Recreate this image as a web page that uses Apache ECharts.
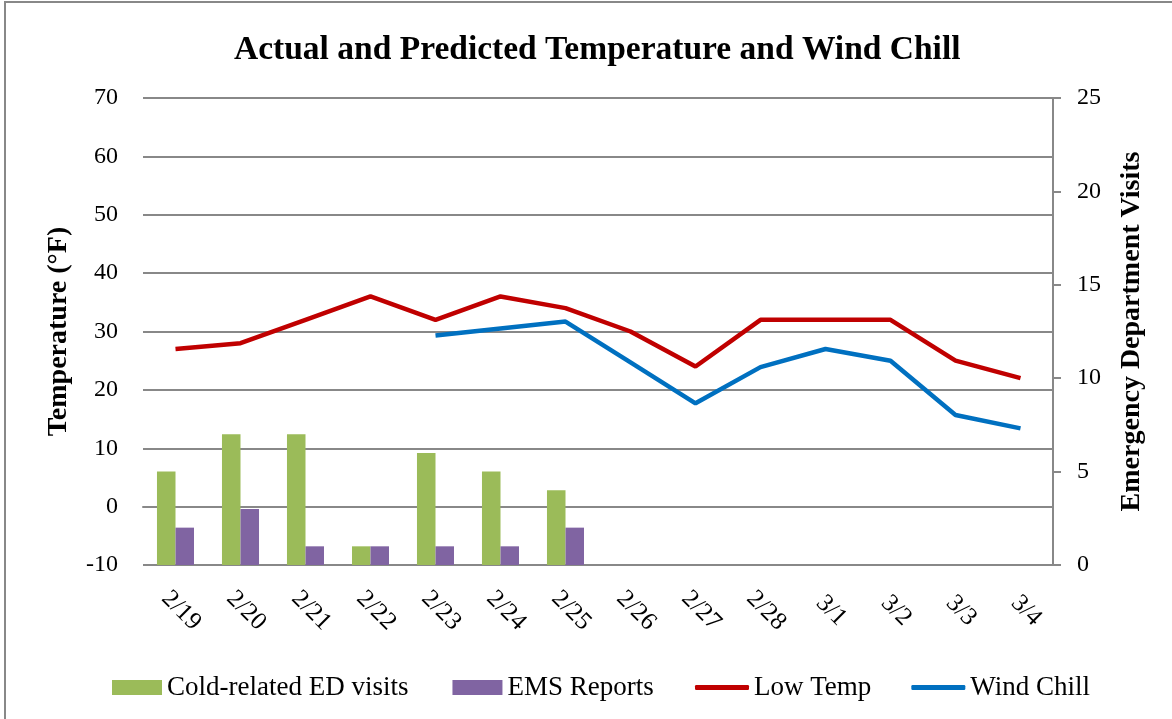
<!DOCTYPE html>
<html>
<head>
<meta charset="utf-8">
<script src="https://cdn.jsdelivr.net/npm/echarts@6/dist/echarts.min.js"></script>
<style>
  html, body { margin: 0; padding: 0; background: #fff; }
  #chart { width: 1172px; height: 719px; }
</style>
</head>
<body>
<div id="chart"></div>
<script>
const days = ['2/19', '2/20', '2/21', '2/22', '2/23', '2/24', '2/25', '2/26', '2/27', '2/28', '3/1', '3/2', '3/3', '3/4'];
const edVisits = [5, 7, 7, 1, 6, 5, 4, null, null, null, null, null, null, null];
const emsReports = [2, 3, 1, 1, 1, 1, 2, null, null, null, null, null, null, null];
const lowTemp = [27, 28, 32, 36, 32, 36, 34, 30, 24, 32, 32, 32, 25, 22];
const windChill = [null, null, null, null, 29.3, 30.5, 31.7, 24.7, 17.7, 23.9, 27, 25, 15.7, 13.4];

const font = '"Liberation Serif", serif';
const grey = '#888888';
const legendText = { fontFamily: font, fontSize: 27, color: '#000' };

const chart = echarts.init(document.getElementById('chart'));

const option = {
  animation: false,
  backgroundColor: '#fff',
  textStyle: { fontFamily: font, color: '#000' },
  title: {
    text: 'Actual and Predicted Temperature and Wind Chill',
    left: 229,
    top: 28,
    textStyle: { fontFamily: font, fontSize: 33.5, fontWeight: 'bold', color: '#000' }
  },
  graphic: [{
    type: 'rect',
    shape: { x: 5, y: 2, width: 1180, height: 730 },
    style: { fill: 'none', stroke: grey, lineWidth: 2 },
    silent: true
  }],
  legend: [
    {
      left: 107,
      top: 669,
      itemWidth: 50,
      itemHeight: 15,
      itemGap: 44,
      icon: 'rect',
      textStyle: legendText,
      data: ['Cold-related ED visits', 'EMS Reports']
    },
    {
      left: 690,
      top: 669,
      itemWidth: 54,
      itemHeight: 5,
      itemGap: 40,
      icon: 'roundRect',
      textStyle: legendText,
      data: ['Low Temp', 'Wind Chill']
    }
  ],
  grid: { left: 143, right: 119, top: 98, bottom: 154 },
  xAxis: {
    type: 'category',
    data: days,
    axisLine: { lineStyle: { color: grey, width: 2 } },
    axisTick: { show: false },
    axisLabel: {
      rotate: -45,
      align: 'center',
      verticalAlign: 'middle',
      margin: 40,
      padding: [0, 0, 0, 16],
      fontFamily: font,
      fontSize: 25,
      color: '#000'
    }
  },
  yAxis: [
    {
      type: 'value',
      min: -10,
      max: 70,
      interval: 10,
      name: 'Temperature (°F)',
      nameLocation: 'middle',
      nameRotate: 90,
      nameGap: 70,
      nameTextStyle: { fontFamily: font, fontSize: 28, fontWeight: 'bold', color: '#000' },
      axisLine: { show: false },
      axisTick: { show: false },
      axisLabel: { margin: 25, fontFamily: font, fontSize: 24, color: '#000' },
      splitLine: { lineStyle: { color: grey, width: 2 } }
    },
    {
      type: 'value',
      min: 0,
      max: 25,
      interval: 5,
      position: 'right',
      name: 'Emergency Department Visits',
      nameLocation: 'middle',
      nameRotate: 90,
      nameGap: 65,
      nameTextStyle: { fontFamily: font, fontSize: 28, fontWeight: 'bold', color: '#000' },
      axisLine: { show: true, lineStyle: { color: grey, width: 2 } },
      axisTick: { show: true, inside: false, length: 8, lineStyle: { color: grey, width: 2 } },
      axisLabel: { margin: 24, fontFamily: font, fontSize: 24, color: '#000' },
      splitLine: { show: false }
    }
  ],
  series: [
    {
      name: 'Cold-related ED visits',
      type: 'bar',
      yAxisIndex: 1,
      data: edVisits,
      barGap: '0%',
      barCategoryGap: '43%',
      itemStyle: { color: '#9BBB59' }
    },
    {
      name: 'EMS Reports',
      type: 'bar',
      yAxisIndex: 1,
      data: emsReports,
      itemStyle: { color: '#8064A2' }
    },
    {
      name: 'Low Temp',
      type: 'line',
      yAxisIndex: 0,
      data: lowTemp,
      symbol: 'none',
      lineStyle: { color: '#C00000', width: 4.5 },
      itemStyle: { color: '#C00000' }
    },
    {
      name: 'Wind Chill',
      type: 'line',
      yAxisIndex: 0,
      data: windChill,
      symbol: 'none',
      lineStyle: { color: '#0070C0', width: 4.5 },
      itemStyle: { color: '#0070C0' }
    }
  ]
};

chart.setOption(option);
window.addEventListener('resize', () => chart.resize());
</script>
</body>
</html>
